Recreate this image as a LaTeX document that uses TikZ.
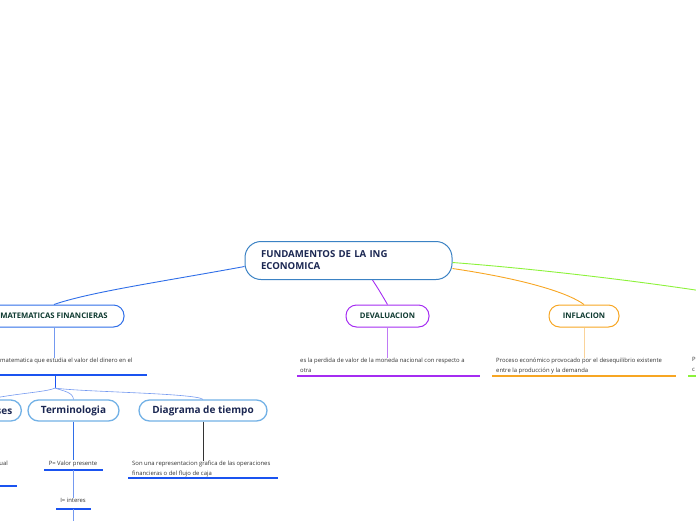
\documentclass[tikz,border=0pt]{standalone}
\usepackage{fontspec}
\setmainfont{Open Sans}
\definecolor{rootblue}{HTML}{3B82C4}
\definecolor{mainblue}{HTML}{2F6EE8}
\definecolor{thinblue}{HTML}{7499F0}
\definecolor{ulblue}{HTML}{1A53F0}
\definecolor{subblue}{HTML}{72B1E6}
\definecolor{devpurple}{HTML}{A52CF2}
\definecolor{lightpurple}{HTML}{C07AF5}
\definecolor{inforange}{HTML}{F7A623}
\definecolor{lightorange}{HTML}{FAD39A}
\definecolor{brgreen}{HTML}{8CF23A}
\definecolor{txtnavy}{HTML}{1B2752}
\definecolor{txtgreen}{HTML}{0E3A30}
\definecolor{txtgray}{HTML}{333333}
\tikzset{
  pill/.style={draw, fill=white, rounded corners=10.5pt, minimum height=22pt, inner sep=0pt, line width=1pt},
  mainbox/.style={pill, font=\fontsize{7.7}{9}\selectfont\bfseries, text=txtgreen},
  subbox/.style={pill, draw=subblue, line width=1.3pt, minimum height=21pt, font=\fontsize{10}{12}\selectfont\bfseries, text=txtnavy},
  desc/.style={font=\fontsize{5.9}{10}\selectfont, text=txtgray, align=left, inner sep=0pt, anchor=north west},
  desc1/.style={font=\fontsize{5.9}{10}\selectfont, text=txtgray, inner sep=0pt},
  ul/.style={line width=1.5pt},
  conn/.style={line width=0.9pt},
  thinconn/.style={line width=0.6pt, draw=thinblue}
}
\begin{document}
\begin{tikzpicture}[x=1pt,y=-1pt]
\useasboundingbox (0,0) rectangle (696,520);
% nodes
\node[draw=rootblue, fill=white, rounded corners=16pt, line width=1pt, minimum width=207pt, minimum height=38pt, text width=175pt, align=left, font=\fontsize{9.6}{12}\selectfont\bfseries, text=txtnavy, inner sep=0pt] (root) at (348.5,260.5) {FUNDAMENTOS DE LA ING\\ECONOMICA};
\node[mainbox, draw=mainblue, minimum width=140pt] (mf) at (54,316) {MATEMATICAS FINANCIERAS};
\node[mainbox, draw=devpurple, minimum width=83pt] (dev) at (387.5,316) {DEVALUACION};
\node[mainbox, draw=inforange, minimum width=70pt] (inf) at (584,316) {INFLACION};
\node[subbox, inner xsep=9pt, anchor=east] (es) at (22,410.5) {Intereses};
\node[subbox, minimum width=91pt] (term) at (73.5,410.5) {Terminologia};
\node[subbox, minimum width=128pt] (diag) at (203,410.5) {Diagrama de tiempo};
% descriptions
\node[desc] (dmf) at (0,357.5) {matematica que estudia el valor del dinero en el};
\node[desc] (ddev) at (300,357.5) {es la perdida de valor de la moneda nacional con respecto a\\otra};
\node[desc] (dinf) at (496,357.5) {Proceso económico provocado por el desequilibrio existente\\entre la producción y la demanda};
\node[desc] (dgr) at (692,357.5) {P\\c};
\node[desc, anchor=north east] (des) at (8,460.5) {anual};
\node[desc1] (dp) at (73,463.5) {P= Valor presente};
\node[desc1] (di) at (73,500.5) {I= interes};
\node[desc] (ddiag) at (132,460.5) {Son una representacion grafica de las operaciones\\financieras o del flujo de caja};
% underline coordinates
\coordinate (umfa) at (-20,375); \coordinate (umfb) at (147,375); \coordinate (umfm) at (55,375);
\coordinate (udeva) at (297,376); \coordinate (udevb) at (480,376);
\coordinate (uinfa) at (492,376); \coordinate (uinfb) at (676,376);
\coordinate (ugra) at (688,376); \coordinate (ugrb) at (700,376);
\coordinate (uesa) at (-20,486); \coordinate (uesb) at (17,486);
\coordinate (upa) at (44,470); \coordinate (upb) at (103,470); \coordinate (upm) at (73,470);
\coordinate (uia) at (56,509); \coordinate (uib) at (91,509); \coordinate (uim) at (73,509);
\coordinate (iend) at (73,525);
\coordinate (udga) at (128,478); \coordinate (udgb) at (278,478);
\coordinate (br) at (55,388);
\coordinate (gend) at (702,291);
% main connectors
\draw[conn, draw=mainblue] ([yshift=-6pt]root.west) .. controls (160,282) and (90,292) .. (mf.north);
\draw[conn, draw=devpurple] ([xshift=24pt]root.south) .. controls (379,290) .. (dev.north);
\draw[conn, draw=inforange] ([yshift=-8pt]root.east) .. controls (530,280) and (570,294) .. (inf.north);
\draw[conn, draw=brgreen] ([yshift=-2pt]root.east) .. controls (550,270) and (650,283) .. (gend);
% verticals to descriptions
\draw[thinconn] (mf.south) -- (mf.south |- dmf.north);
\draw[line width=0.6pt, draw=lightpurple] (dev.south) -- (dev.south |- ddev.north);
\draw[line width=0.6pt, draw=lightorange] (inf.south) -- (inf.south |- dinf.north);
% underlines
\draw[ul, draw=ulblue] (umfa) -- (umfb);
\draw[ul, draw=devpurple] (udeva) -- (udevb);
\draw[ul, draw=inforange] (uinfa) -- (uinfb);
\draw[ul, draw=brgreen] (ugra) -- (ugrb);
\draw[ul, draw=ulblue] (uesa) -- (uesb);
\draw[ul, draw=ulblue] (upa) -- (upb);
\draw[ul, draw=ulblue] (uia) -- (uib);
\draw[ul, draw=ulblue] (udga) -- (udgb);
% branch
\draw[line width=0.9pt, draw=ulblue] (umfm) -- (br);
\draw[thinconn] (br) .. controls (48,392) and (10,394) .. (es.north);
\draw[thinconn] (br) .. controls (63,391) and (73,392) .. (term.north);
\draw[thinconn] (br) .. controls (80,392) and (195,393) .. (diag.north);
% terminologia chain
\draw[line width=0.7pt, draw=mainblue] (term.south) -- (term.south |- dp.north);
\draw[line width=0.7pt, draw=thinblue] (upm) -- (di.north);
\draw[line width=0.7pt, draw=thinblue] (uim) -- (iend);
\draw[line width=0.7pt, draw=black!80] (diag.south) -- (diag.south |- ddiag.north);
\end{tikzpicture}
\end{document}
